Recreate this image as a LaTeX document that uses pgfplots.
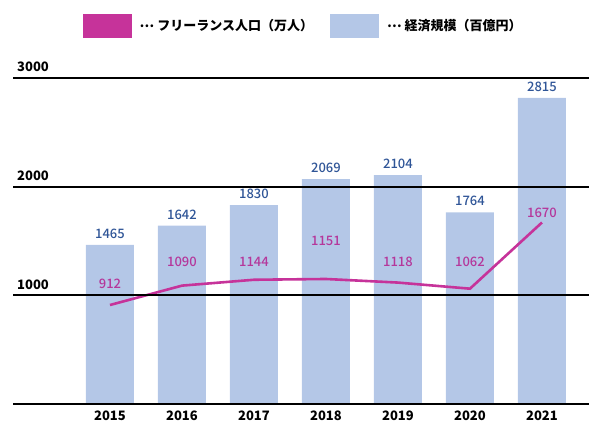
\documentclass[border=0pt]{standalone}
\usepackage{fontspec}
\setmainfont{Noto Sans CJK JP}
\newfontfamily\medfont{Noto Sans CJK JP Medium}
\usepackage{pgfplots}
\pgfplotsset{compat=1.18}
\definecolor{barblue}{HTML}{B4C7E7}
\definecolor{barlab}{HTML}{2F5597}
\definecolor{mag}{HTML}{C6339A}
\definecolor{maglab}{HTML}{B5379B}
\newcommand\lbl{\fontsize{13}{15}\selectfont}
\newcommand\middots{\raisebox{0.3em}{…}}
\begin{document}
\begin{tikzpicture}
\useasboundingbox (-13pt,-25.7pt) rectangle (587pt,404.3pt);
\begin{axis}[
  at={(0pt,0pt)}, anchor=south west,
  scale only axis, width=576pt, height=326.6pt,
  xmin=-1.347, xmax=6.653, ymin=0, ymax=3000,
  axis line style={draw=none},
  major tick length=0pt,
  xtick={0,1,2,3,4,5,6},
  xticklabels={2015,2016,2017,2018,2019,2020,2021},
  ytick={0,1000,2000,3000}, yticklabels={,1000,2000,3000},
  ymajorgrids, major grid style={black, line width=2pt},
  axis on top,
  clip=false,
  /pgf/number format/assume math mode=true,
  /pgf/number format/1000 sep={},
  xticklabel style={font=\lbl\bfseries, anchor=north, inner sep=0pt, yshift=-6pt},
  yticklabel style={font=\lbl\bfseries, anchor=south west, inner sep=0pt, xshift=4pt, yshift=6pt},
  legend columns=2,
  legend style={at={(0.509,1.158)}, anchor=center, draw=none, fill=none,
    font=\lbl\bfseries,
    /tikz/every even column/.append style={column sep=9pt},
    nodes={inner xsep=8pt, inner ysep=0pt}},
  legend image code/.code={\fill[#1] (0pt,-12pt) rectangle (49pt,12pt);},
]
\addlegendimage{fill=mag, draw=none}
\addlegendentry{\middots{} フリーランス人口（万人）}
\addlegendimage{fill=barblue, draw=none}
\addlegendentry{\middots{} 経済規模（百億円）}

\addplot[ybar, bar width=48pt, fill=barblue, draw=none, forget plot,
  nodes near coords,
  nodes near coords style={font=\lbl\medfont, color=barlab, anchor=south, inner sep=0pt, yshift=6pt}]
  coordinates {(0,1465) (1,1642) (2,1830) (3,2069) (4,2104) (5,1764) (6,2815)};

\addplot[mag, line width=2.6pt, mark=none, forget plot]
  coordinates {(0,912) (1,1090) (2,1144) (3,1151) (4,1118) (5,1062) (6,1670)};

\addplot[draw=none, mark=none, forget plot,
  nodes near coords, point meta=explicit symbolic,
  nodes near coords style={font=\lbl\medfont, color=maglab, anchor=center, inner sep=0pt}]
  coordinates {(0,1105) [912] (1,1307) [1090] (2,1307) [1144] (3,1500) [1151]
               (4,1307) [1118] (5,1307) [1062] (6,1755) [1670]};
\end{axis}
\end{tikzpicture}
\end{document}
